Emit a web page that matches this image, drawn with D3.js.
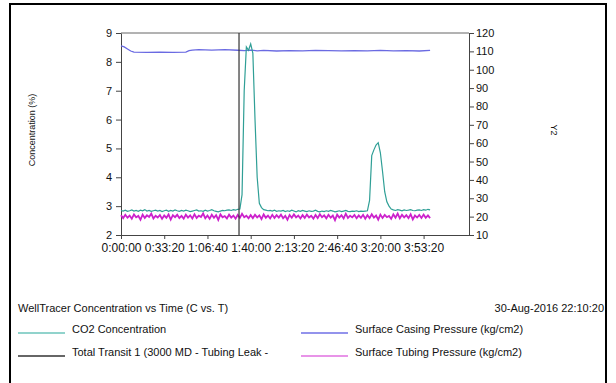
<!DOCTYPE html>
<html>
<head>
<meta charset="utf-8">
<script src="https://cdn.jsdelivr.net/npm/d3@7"></script>
<style>
  body { margin: 0; background: #fff; }
  text { font-family: "Liberation Sans", Arial, sans-serif; fill: #111; }
</style>
</head>
<body>
<div id="chart"></div>
<script>
// sample step of the logger (seconds)
var sampleStep = 100;

var xTicks = [0, 2000, 4000, 6000, 8000, 10000, 12000, 14000];
var yLeftTicks = [2, 3, 4, 5, 6, 7, 8, 9];
var yRightTicks = [10, 20, 30, 40, 50, 60, 70, 80, 90, 100, 110, 120];

// CO2 concentration (%), one value every sampleStep seconds
var co2Values = [
  2.85, 2.83, 2.86, 2.82, 2.84, 2.87, 2.83, 2.85, 2.82, 2.86,
  2.84, 2.88, 2.83, 2.85, 2.82, 2.84, 2.86, 2.83, 2.85, 2.81,
  2.84, 2.86, 2.82, 2.85, 2.83, 2.87, 2.84, 2.82, 2.85, 2.83,
  2.86, 2.84, 2.81, 2.83, 2.85, 2.87, 2.83, 2.84, 2.82, 2.86,
  2.83, 2.85, 2.88, 2.84, 2.82, 2.80, 2.83, 2.85, 2.84, 2.86,
  2.87, 2.85, 2.88, 2.86, 2.89,
  2.90, 3.4, 7.0, 8.52, 8.4, 8.62, 8.3, 6.0, 4.0, 3.1, 2.95, 2.88,
  2.86, 2.84, 2.85, 2.83, 2.86, 2.82, 2.84, 2.83, 2.85, 2.81,
  2.84, 2.82, 2.86, 2.83, 2.80, 2.84, 2.82, 2.85, 2.83, 2.81,
  2.84, 2.82, 2.83, 2.86, 2.82, 2.80, 2.83, 2.81, 2.84, 2.82,
  2.85, 2.83, 2.80, 2.82, 2.84, 2.81, 2.83, 2.85, 2.82, 2.81,
  2.83, 2.82, 2.84, 2.81, 2.83, 2.82, 2.83,
  2.84, 3.2, 4.75, 4.95, 5.12, 5.2, 4.85, 4.2, 3.5, 3.15, 3.0, 2.9,
  2.87, 2.85, 2.88, 2.86, 2.84, 2.87, 2.85, 2.86, 2.88, 2.85,
  2.84, 2.86, 2.87, 2.85, 2.88, 2.86, 2.89, 2.87
];

// Surface tubing pressure (kg/cm2), one value every sampleStep seconds
var tubingValues = [
  20.8, 19.2, 21.0, 19.4, 20.6, 18.9, 21.2, 19.6, 20.4, 18.3,
  21.1, 19.3, 20.7, 19.8, 21.6, 19.0, 20.5, 19.5, 20.9, 18.8,
  20.6, 19.4, 21.2, 18.4, 20.8, 19.7, 21.0, 19.2, 20.4, 18.9,
  21.1, 19.5, 20.7, 19.0, 21.3, 19.3, 20.5, 19.8, 21.7, 19.1,
  20.6, 18.8, 21.0, 19.4, 20.8, 18.2, 21.2, 19.6, 20.3, 19.0,
  21.1, 19.5, 20.6, 18.9, 20.9, 19.3, 21.5, 19.7, 20.5, 19.1,
  20.8, 19.2, 21.0, 19.6, 20.7, 18.7, 21.2, 19.4, 20.6, 19.0,
  21.0, 19.3, 20.8, 19.5, 21.1, 19.1, 20.4, 18.3, 20.9, 19.4,
  21.2, 19.6, 20.6, 19.0, 20.8, 19.3, 21.1, 19.5, 20.5, 18.9,
  20.9, 19.2, 21.3, 19.7, 20.7, 19.1, 21.0, 19.4, 20.6, 18.1,
  21.1, 19.5, 20.8, 19.0, 21.6, 19.3, 20.5, 19.6, 20.9, 19.1,
  20.7, 19.4, 21.0, 18.9, 20.8, 19.2, 21.3, 19.5, 20.6, 18.4,
  21.1, 19.3, 20.9, 19.7, 20.4, 18.8, 21.2, 19.4, 21.7, 19.1,
  21.0, 19.6, 20.8, 19.2, 21.3, 18.5, 20.6, 19.5, 20.9, 19.3,
  21.1, 19.4, 20.7, 19.2
];

// Surface casing pressure (kg/cm2)
var casingTime = [0, 150, 300, 450, 600, 1200, 1800, 2400, 3000, 3150, 3300, 3600, 4200, 4800,
  5400, 5700, 6000, 6300, 6600, 7200, 7800, 8400, 9000, 9600, 10200, 10800, 11400, 12000,
  12600, 13200, 13800, 14300];
var casingValues = [113.0, 112.4, 111.3, 110.2, 109.6, 109.5, 109.6, 109.5, 109.6, 110.4, 110.7,
  110.9, 110.7, 110.9, 110.6, 110.4, 110.7, 110.3, 110.5, 110.2, 110.4, 110.3, 110.5, 110.4,
  110.3, 110.4, 110.3, 110.5, 110.3, 110.4, 110.2, 110.5];

// Total transit 1 marker (seconds)
var transitTime = 5460;

var chartTitle = "WellTracer Concentration vs Time (C vs. T)";
var chartDate = "30-Aug-2016 22:10:20";
var legendItems = [
  { name: "CO2 Concentration", color: "#6cc4bb" },
  { name: "Surface Casing Pressure (kg/cm2)", color: "#6f6fe6" },
  { name: "Total Transit 1 (3000 MD - Tubing Leak -", color: "#333333" },
  { name: "Surface Tubing Pressure (kg/cm2)", color: "#e070e0" }
];

var width = 616, height = 383;
var margin = { top: 33, left: 121, right: 147, bottom: 148 };
var plotW = width - margin.left - margin.right;
var plotH = height - margin.top - margin.bottom;

var svg = d3.select("#chart")
  .append("svg")
  .attr("width", width)
  .attr("height", height);

// outer frame
svg.append("rect")
  .attr("x", 10)
  .attr("y", 4)
  .attr("width", 596)
  .attr("height", 400)
  .attr("fill", "none")
  .attr("stroke", "#000")
  .attr("stroke-width", 2);

var g = svg.append("g")
  .attr("transform", "translate(" + margin.left + "," + margin.top + ")");

var x = d3.scaleLinear().domain([0, 16100]).range([0, plotW]);
var yLeft = d3.scaleLinear().domain([2, 9]).range([plotH, 0]);
var yRight = d3.scaleLinear().domain([10, 120]).range([plotH, 0]);

function fmtTime(s) {
  var h = Math.floor(s / 3600);
  var m = Math.floor((s % 3600) / 60);
  var sec = s % 60;
  return h + ":" + d3.format("02")(m) + ":" + d3.format("02")(sec);
}

// top border of plot area
g.append("line")
  .attr("x1", 0).attr("x2", plotW)
  .attr("y1", 0).attr("y2", 0)
  .attr("stroke", "#666");

var xAxis = g.append("g")
  .attr("transform", "translate(0," + plotH + ")")
  .call(d3.axisBottom(x).tickValues(xTicks).tickFormat(fmtTime).tickSize(4).tickSizeOuter(0));
xAxis.selectAll("text").attr("font-size", 12).attr("dy", "0.85em");

var leftAxis = g.append("g")
  .call(d3.axisLeft(yLeft).tickValues(yLeftTicks).tickFormat(d3.format("d")).tickSize(5).tickSizeOuter(0));
leftAxis.selectAll("text").attr("font-size", 11).attr("dx", "-1");

var rightAxis = g.append("g")
  .attr("transform", "translate(" + plotW + ",0)")
  .call(d3.axisRight(yRight).tickValues(yRightTicks).tickFormat(d3.format("d")).tickSize(5).tickSizeOuter(0));
rightAxis.selectAll("text").attr("font-size", 11).attr("dx", "-1");

g.selectAll(".domain, .tick line").attr("stroke", "#444");
g.selectAll(".tick text").attr("fill", "#111").attr("font-family", "Liberation Sans, Arial, sans-serif");

// lines
var co2Line = d3.line()
  .x(function(d, i) { return x(i * sampleStep); })
  .y(function(d) { return yLeft(d); });

var tubingLine = d3.line()
  .x(function(d, i) { return x(i * sampleStep); })
  .y(function(d) { return yRight(d); });

var casingLine = d3.line()
  .x(function(d, i) { return x(casingTime[i]); })
  .y(function(d) { return yRight(d); });

g.append("path")
  .datum(tubingValues)
  .attr("d", tubingLine)
  .attr("fill", "none")
  .attr("stroke", "#cc22cc")
  .attr("stroke-width", 1.8);

g.append("path")
  .datum(casingValues)
  .attr("d", casingLine)
  .attr("fill", "none")
  .attr("stroke", "#6a6ae2")
  .attr("stroke-width", 1.3);

g.append("path")
  .datum(co2Values)
  .attr("d", co2Line)
  .attr("fill", "none")
  .attr("stroke", "#2f9f96")
  .attr("stroke-width", 1.2);

// transit marker
g.append("line")
  .attr("x1", x(transitTime)).attr("x2", x(transitTime))
  .attr("y1", 0).attr("y2", plotH)
  .attr("stroke", "#333")
  .attr("stroke-width", 1.2);

// axis titles
svg.append("text")
  .text("Concentration (%)")
  .attr("font-size", 9)
  .attr("text-anchor", "middle")
  .attr("transform", "translate(35,130) rotate(-90)");

svg.append("text")
  .text("Y2")
  .attr("font-size", 9)
  .attr("text-anchor", "middle")
  .attr("transform", "translate(551,130) rotate(90)");

// footer
svg.append("text")
  .text(chartTitle)
  .attr("font-size", 11)
  .attr("x", 18)
  .attr("y", 312);

svg.append("text")
  .text(chartDate)
  .attr("font-size", 11)
  .attr("text-anchor", "end")
  .attr("x", 604)
  .attr("y", 312);

var legend = svg.selectAll(".legend")
  .data(legendItems)
  .enter()
  .append("g")
  .attr("class", "legend")
  .attr("transform", function(d, i) {
    return "translate(" + (i % 2 === 0 ? 18 : 301) + "," + (333 + Math.floor(i / 2) * 23) + ")";
  });

legend.append("line")
  .attr("x1", 0).attr("x2", 47)
  .attr("y1", 0).attr("y2", 0)
  .attr("stroke", function(d) { return d.color; })
  .attr("stroke-width", 1.5);

legend.append("text")
  .text(function(d) { return d.name; })
  .attr("font-size", 11)
  .attr("x", 54)
  .attr("y", 0);
</script>
</body>
</html>
